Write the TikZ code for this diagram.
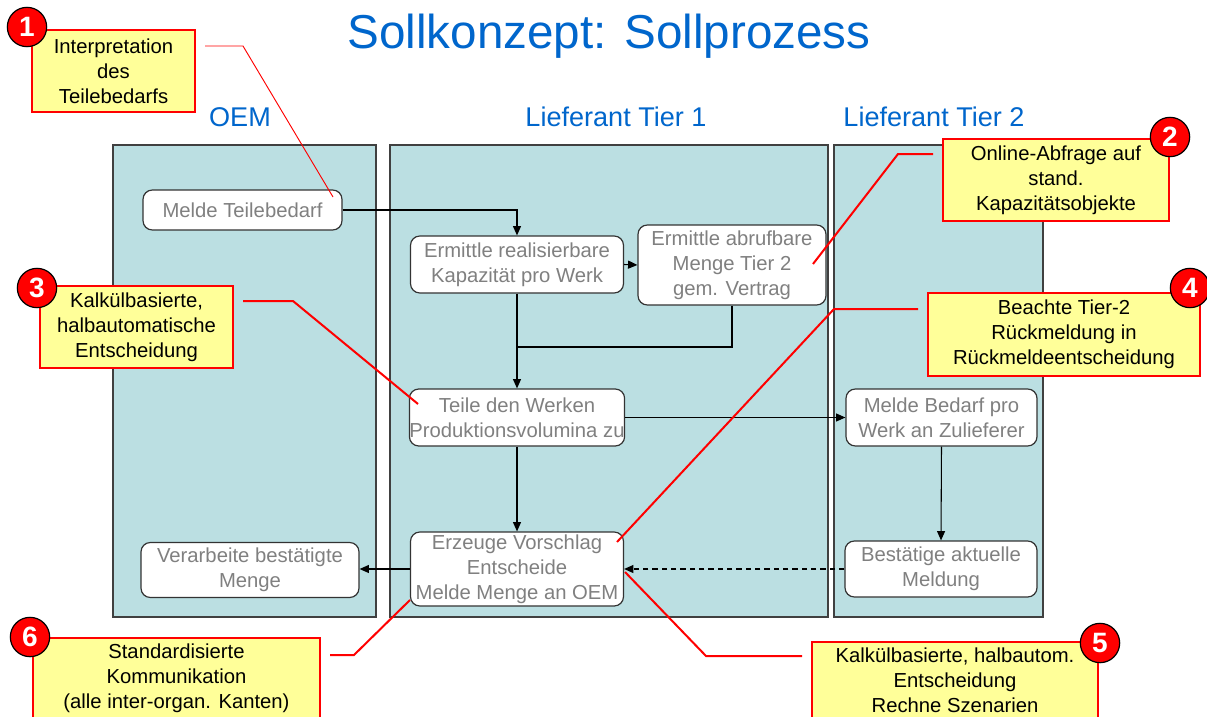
\documentclass[tikz,border=0pt]{standalone}
\usepackage{fontspec}
\setmainfont{Liberation Sans}
\usetikzlibrary{arrows.meta}
\definecolor{titleblue}{RGB}{0,102,204}
\definecolor{lanefill}{RGB}{187,223,226}
\definecolor{laneborder}{RGB}{64,64,64}
\definecolor{callyellow}{RGB}{255,255,153}
\definecolor{boxtext}{RGB}{128,128,128}
\newcommand{\boxfont}{\fontsize{15.2}{18.75}\selectfont}
\newcommand{\titlefont}{\fontsize{35.7}{42}\selectfont}
\newcommand{\lanefont}{\fontsize{20.3}{24}\selectfont}
\newcommand{\badgefont}{\fontsize{21}{24}\selectfont\bfseries}
\tikzset{
  lane/.style={draw=laneborder, fill=lanefill, line width=1pt},
  lanelabel/.style={text=titleblue, font=\lanefont, inner sep=0},
  proc/.style={draw=black!80, fill=white, rounded corners=7pt, line width=0.9pt,
    text=boxtext, font=\boxfont, align=center, inner sep=0pt},
  callout/.style={draw=red, fill=callyellow, line width=1.6pt, text=black,
    font=\boxfont, align=center, inner sep=0pt},
  badge/.style={circle, fill=red, draw=black, line width=0.9pt, text=white,
    font=\badgefont, minimum size=29.5pt, inner sep=0pt},
  leader/.style={draw=red, line width=1.5pt},
  thinleader/.style={draw=red, line width=0.7pt},
  flow/.style={draw=black, line width=0.8pt, -{Triangle[length=7pt,width=6pt]}},
  plainflow/.style={draw=black, line width=0.8pt},
}
\begin{document}
\begin{tikzpicture}[x=0.75pt, y=-0.75pt]
\useasboundingbox (0,0) rectangle (1207,717);
\clip (0,0) rectangle (1207,717);
\fill[white] (0,0) rectangle (1207,717);

% title
\node[text=titleblue, font=\titlefont, inner sep=0] (title) at (609,36) {Sollkonzept: Sollprozess};

% lanes
\draw[lane] (113,145) rectangle (376,617);
\draw[lane] (390,145) rectangle (828,617);
\draw[lane] (834,145) rectangle (1043,617);
\node[lanelabel] (loem) at (240,117) {OEM};
\node[lanelabel] (lt1) at (616,117) {Lieferant Tier 1};
\node[lanelabel] (lt2) at (934,117) {Lieferant Tier 2};

% process boxes
\node[proc, minimum width=149.25pt, minimum height=30pt] (b1) at (242.5,210) {Melde Teilebedarf};
\node[proc, minimum width=159.75pt, minimum height=42.75pt] (b2) at (517,264.5) {Ermittle realisierbare\\Kapazität pro Werk};
\node[proc, minimum width=141pt, minimum height=60pt] (b3) at (732,265) {Ermittle abrufbare\\Menge Tier 2\\gem. Vertrag};
\node[proc, minimum width=159.75pt, minimum height=42.75pt] (b4) at (517,417.5) {Teile den Werken\\Produktionsvolumina zu};
\node[proc, minimum width=143.25pt, minimum height=42.75pt] (b5) at (941.5,417.5) {Melde Bedarf pro\\Werk an Zulieferer};
\node[proc, minimum width=159.75pt, minimum height=55.5pt] (b6) at (517,569) {Erzeuge Vorschlag\\Entscheide\\Melde Menge an OEM};
\node[proc, minimum width=163.5pt, minimum height=41.25pt] (b7) at (250,570) {Verarbeite bestätigte\\Menge};
\node[proc, minimum width=144pt, minimum height=42pt] (b8) at (941,569) {Bestätige aktuelle\\Meldung};

% flows
\coordinate (j) at (517,347);
\draw[flow] (b1.east) -| (b2.north);
\draw[flow] (b2.east) -- (b3.west);
\draw[flow] (b2.south) -- (b4.north);
\draw[plainflow] (b3.south) |- (j);
\draw[flow] (b4.east) -- (b5.west);
\draw[flow] (b4.south) -- (b6.north);
\draw[flow] (b5.south) -- (b8.north);
\draw[flow, dashed, dash pattern=on 4pt off 3pt] (b8.west) -- (b6.east);
\draw[flow] (b6.west) -- (b6.west -| b7.east);

% callouts
\node[callout, minimum width=122.25pt, minimum height=61.5pt] (c1) at (113.5,71) {Interpretation\\des\\Teilebedarfs};
\node[callout, minimum width=169.5pt, minimum height=61.5pt] (c2) at (1056,180) {Online-Abfrage auf\\stand.\\Kapazitätsobjekte};
\node[callout, minimum width=144.75pt, minimum height=61.5pt] (c3) at (136.5,327) {Kalkülbasierte,\\halbautomatische\\Entscheidung};
\node[callout, minimum width=204pt, minimum height=62.25pt] (c4) at (1064,334.5) {Beachte Tier-2\\Rückmeldung in\\Rückmeldeentscheidung};
\node[callout, minimum width=214.5pt, minimum height=57pt] (c5) at (955,680) {Kalkülbasierte, halbautom.\\Entscheidung\\Rechne Szenarien};
\node[callout, minimum width=215.25pt, minimum height=60pt] (c6) at (176.5,678) {Standardisierte\\Kommunikation\\(alle inter-organ. Kanten)};

% badges
\node[badge] (n1) at (27,27) {1};
\node[badge] (n2) at (1170,137) {2};
\node[badge] (n3) at (37,288) {3};
\node[badge] (n4) at (1190,288) {4};
\node[badge] (n5) at (1100,643) {5};
\node[badge] (n6) at (30,637) {6};

% leaders
\coordinate (l1s) at (205,46);
\coordinate (l1e) at (333,197);
\draw[thinleader] (l1s) -- (243,46) -- (l1e);
\coordinate (l2s) at (933,154);
\coordinate (l2e) at (813,264);
\draw[leader] (l2s) -- (898,154) -- (l2e);
\coordinate (l3s) at (243,301);
\coordinate (l3e) at (418,404);
\draw[leader] (l3s) -- (293,301) -- (l3e);
\coordinate (l4s) at (918,309);
\coordinate (l4e) at (617,542);
\draw[leader] (l4s) -- (834,309) -- (l4e);
\coordinate (l5s) at (802,656);
\coordinate (l5e) at (625,572);
\draw[leader] (l5s) -- (706,656) -- (l5e);
\coordinate (l6s) at (330,655);
\coordinate (l6e) at (410,600);
\draw[leader] (l6s) -- (354,655) -- (l6e);
\end{tikzpicture}
\end{document}
